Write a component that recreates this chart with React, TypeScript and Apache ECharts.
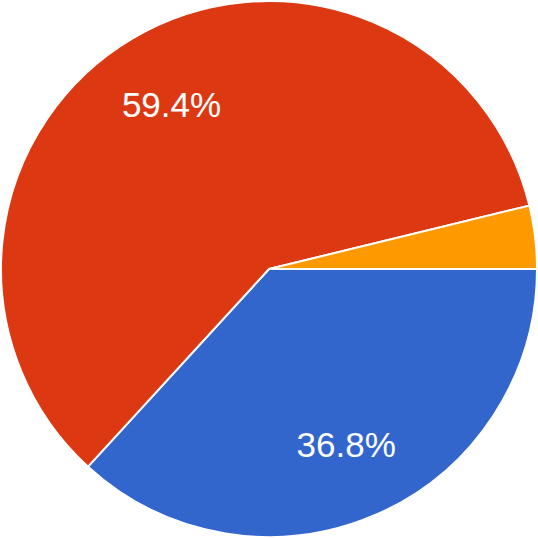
import React, { useEffect, useRef } from "react";
import * as echarts from "echarts";

const categories = ["A", "B", "C"];
const values = [36.8, 59.4, 3.8];
const colors = ["#3366cc", "#dc3912", "#ff9900"];
const showLabel = [true, true, false];

export default function App() {
  const ref = useRef<HTMLDivElement>(null);
  useEffect(() => {
    if (!ref.current) return;
    const chart = echarts.init(ref.current, undefined, { renderer: "svg" });
    const baseData = categories.map((name, i) => ({
      name,
      value: values[i],
      itemStyle: { color: colors[i] },
    }));
    const labelData = categories.map((name, i) => ({
      name,
      value: values[i],
      label: { show: showLabel[i] },
    }));
    chart.setOption({
      animation: false,
      backgroundColor: "#ffffff",
      series: [
        {
          type: "pie",
          center: [269, 269],
          radius: [0, 268],
          startAngle: 0,
          clockwise: true,
          data: baseData,
          silent: true,
          label: { show: false },
          labelLine: { show: false },
          itemStyle: { borderColor: "#ffffff", borderWidth: 2 },
          emphasis: { disabled: true },
        },
        {
          type: "pie",
          center: [269, 269],
          radius: [109, 268],
          startAngle: 0,
          clockwise: true,
          data: labelData,
          silent: true,
          itemStyle: { color: "rgba(0,0,0,0)", borderWidth: 0 },
          label: {
            show: true,
            position: "inside",
            formatter: (p: any) => p.value.toFixed(1) + "%",
            color: "#ffffff",
            fontSize: 35,
            fontFamily: "'Liberation Sans', Arial, sans-serif",
          },
          labelLine: { show: false },
          emphasis: { disabled: true },
        },
      ],
    });
    return () => chart.dispose();
  }, []);
  return (
    <div
      ref={ref}
      style={{ position: "absolute", left: 0, top: 0, width: 538, height: 538 }}
    />
  );
}
